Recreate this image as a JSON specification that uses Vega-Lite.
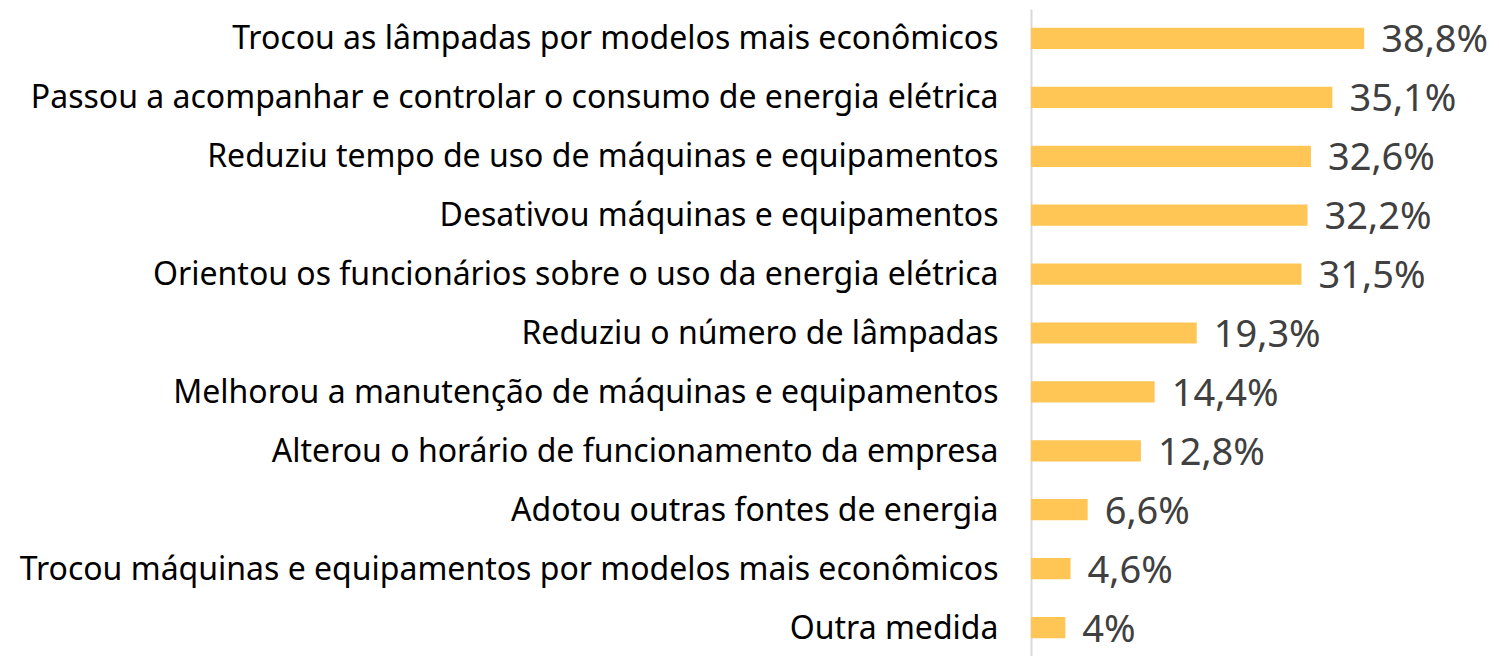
{
  "$schema": "https://vega.github.io/schema/vega-lite/v6.json",
  "width": 468,
  "height": 648,
  "autosize": {"type": "none"},
  "padding": {"left": 1031, "top": 9, "right": 0, "bottom": 0},
  "background": "white",
  "config": {
    "view": {"stroke": null},
    "locale": {"number": {"decimal": ",", "thousands": ".", "grouping": [3], "currency": ["", " €"]}},
    "font": "Noto Sans"
  },
  "data": {
    "values": [
      {"medida": "Trocou as lâmpadas por modelos mais econômicos", "valor": 0.388},
      {"medida": "Passou a acompanhar e controlar o consumo de energia elétrica", "valor": 0.351},
      {"medida": "Reduziu tempo de uso de máquinas e equipamentos", "valor": 0.326},
      {"medida": "Desativou máquinas e equipamentos", "valor": 0.322},
      {"medida": "Orientou os funcionários sobre o uso da energia elétrica", "valor": 0.315},
      {"medida": "Reduziu o número de lâmpadas", "valor": 0.193},
      {"medida": "Melhorou a manutenção de máquinas e equipamentos", "valor": 0.144},
      {"medida": "Alterou o horário de funcionamento da empresa", "valor": 0.128},
      {"medida": "Adotou outras fontes de energia", "valor": 0.066},
      {"medida": "Trocou máquinas e equipamentos por modelos mais econômicos", "valor": 0.046},
      {"medida": "Outra medida", "valor": 0.04}
    ]
  },
  "encoding": {
    "y": {
      "field": "medida",
      "type": "nominal",
      "sort": null,
      "scale": {"paddingInner": 0.64, "paddingOuter": 0.32},
      "axis": {
        "title": null,
        "ticks": false,
        "domain": true,
        "domainColor": "#d9d9d9",
        "domainWidth": 2,
        "labelFontSize": 32,
        "labelColor": "#000000",
        "labelPadding": 33,
        "labelLimit": 1100,
        "labelFont": "Noto Sans",
        "labelOffset": 1
      }
    },
    "x": {
      "field": "valor",
      "type": "quantitative",
      "scale": {"domain": [0, 0.545], "nice": false},
      "axis": null
    }
  },
  "layer": [
    {"mark": {"type": "bar", "color": "#FFC655"}},
    {
      "mark": {"type": "text", "align": "left", "baseline": "middle", "dx": 17, "dy": 3, "fontSize": 38, "color": "#404040", "font": "Noto Sans"},
      "encoding": {"text": {"field": "valor", "type": "quantitative", "format": ".1~%"}}
    }
  ]
}
